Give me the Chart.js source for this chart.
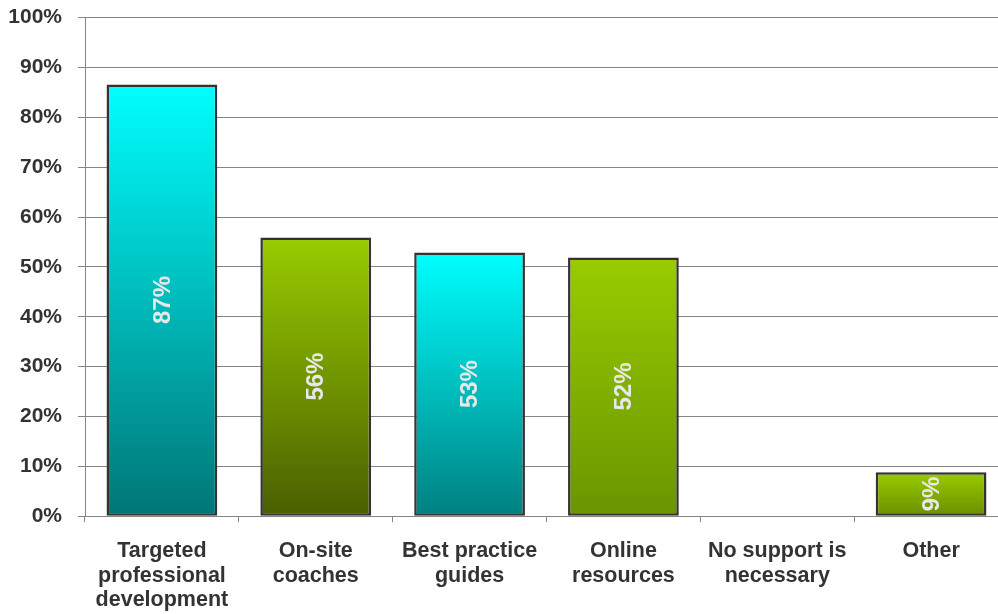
<!DOCTYPE html>
<html>
<head>
<meta charset="utf-8">
<script src="https://cdn.jsdelivr.net/npm/chart.js@4/dist/chart.umd.min.js"></script>
<style>
  body { margin: 0; background: #fff; overflow: hidden; }
  #wrap { width: 1010px; height: 640px; margin-top: -11px; }
</style>
</head>
<body>
<div id="wrap"><canvas id="myChart" width="1010" height="640"></canvas></div>
<script>
// data
const categories = [
    ['Targeted', 'professional', 'development'],
    ['On-site', 'coaches'],
    ['Best practice', 'guides'],
    ['Online', 'resources'],
    ['No support is', 'necessary'],
    ['Other']
];
const percentages = [86.6, 55.9, 52.9, 51.9, 0, 8.8];
const yTicks = [0, 10, 20, 30, 40, 50, 60, 70, 80, 90, 100];

// per bar gradient colours (top -> bottom)
const topColors = ['#00FFFF', '#99CC00', '#00FFFF', '#99CC00', '#99CC00', '#99CC00'];
const bottomColors = ['#007676', '#4A5F00', '#008080', '#6B9400', '#6B9400', '#6B8E00'];

const textColor = '#333333';
const gridColor = '#858585';
const fontFamily = '"Liberation Sans", Arial, sans-serif';

function barGradient(context) {
    const chart = context.chart;
    const i = context.dataIndex;
    if (!chart.chartArea) return topColors[i];
    const y = chart.scales.y;
    const top = y.getPixelForValue(context.raw);
    const bottom = y.getPixelForValue(0);
    if (bottom - top < 1) return topColors[i];
    const g = chart.ctx.createLinearGradient(0, top, 0, bottom);
    g.addColorStop(0, topColors[i]);
    g.addColorStop(1, bottomColors[i]);
    return g;
}

// rotated value labels in the middle of each bar
const barLabels = {
    id: 'barLabels',
    afterDatasetsDraw(chart) {
        const ctx = chart.ctx;
        const meta = chart.getDatasetMeta(0);
        ctx.save();
        ctx.font = 'bold 24px ' + fontFamily;
        ctx.fillStyle = '#E8E8E8';
        ctx.textAlign = 'center';
        ctx.textBaseline = 'middle';
        meta.data.forEach((bar, i) => {
            const v = percentages[i];
            if (!v) return;
            const cy = (bar.y + bar.base) / 2;
            ctx.save();
            ctx.translate(bar.x, cy);
            ctx.rotate(-Math.PI / 2);
            ctx.fillText(Math.round(v) + '%', 0, 1);
            ctx.restore();
        });
        ctx.restore();
    }
};

const ctx = document.getElementById('myChart').getContext('2d');
new Chart(ctx, {
    type: 'bar',
    data: {
        labels: categories,
        datasets: [{
            data: percentages,
            backgroundColor: barGradient,
            borderColor: '#333333',
            borderWidth: 2.5,
            borderSkipped: false,
            barPercentage: 0.72,
            categoryPercentage: 1
        }]
    },
    options: {
        responsive: false,
        animation: false,
        layout: { padding: { left: 8, top: 6, right: 2, bottom: 0 } },
        plugins: {
            legend: { display: false },
            tooltip: { enabled: false }
        },
        scales: {
            x: {
                grid: {
                    offset: true,
                    drawOnChartArea: false,
                    drawTicks: true,
                    tickLength: 6,
                    color: gridColor
                },
                border: { display: true, color: gridColor, width: 1 },
                ticks: {
                    color: textColor,
                    padding: 16,
                    maxRotation: 0,
                    autoSkip: false,
                    font: { family: fontFamily, size: 21.5, weight: 'bold', lineHeight: 1.16 }
                }
            },
            y: {
                min: 0,
                max: 100,
                afterBuildTicks: axis => { axis.ticks = yTicks.map(v => ({ value: v })); },
                afterFit: axis => { axis.width = 77; },
                grid: { color: gridColor, tickLength: 7, lineWidth: 1 },
                border: { display: true, color: gridColor, width: 1 },
                ticks: {
                    color: textColor,
                    padding: 16,
                    callback: v => v + '%',
                    font: { family: fontFamily, size: 21, weight: 'bold' }
                }
            }
        }
    },
    plugins: [barLabels]
});
</script>
</body>
</html>
